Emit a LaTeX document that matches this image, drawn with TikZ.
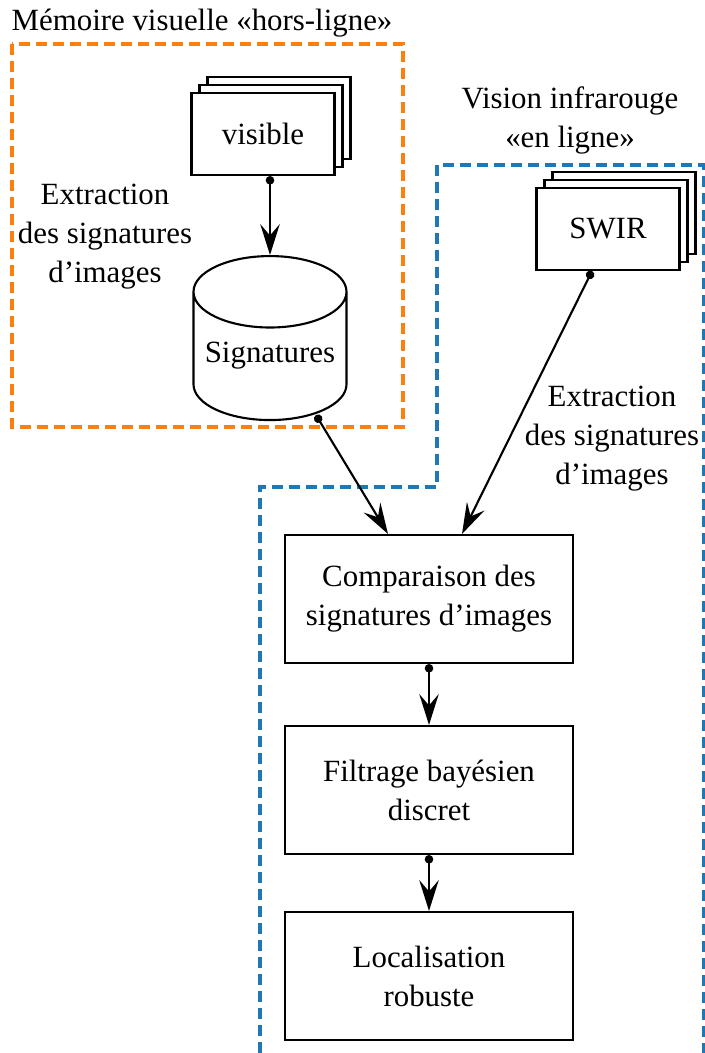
\documentclass[tikz,border=0pt]{standalone}
\usepackage{fontspec}
\setmainfont{Liberation Serif}
\usepackage{tikz}
\usetikzlibrary{arrows.meta, positioning, calc, shapes, shadows}
\newdimen\pxu \pxu=0.3077pt
\definecolor{orangecadre}{RGB}{255,127,14}
\definecolor{bleucadre}{RGB}{31,119,180}

\begin{document}
\begin{tikzpicture}[x=\pxu, y=-\pxu, line width=0.65pt,
    font=\fontsize{9.5}{12}\selectfont,
    boite/.style={draw, fill=white, minimum width=288\pxu, minimum height=128\pxu, align=center},
    pile/.style={draw, fill=white, minimum width=143\pxu, minimum height=82\pxu,
        copy shadow={shadow xshift=16\pxu, shadow yshift=16\pxu, draw, fill=white},
        copy shadow={shadow xshift=8\pxu, shadow yshift=8\pxu, draw, fill=white}},
    base/.style={draw, fill=white, cylinder, shape border rotate=90, aspect=0.47,
        minimum width=153\pxu, minimum height=164\pxu, text depth=8.5pt},
    fleche/.style={{Circle[length=2.6pt]}-{Stealth[length=9.5pt, width=6pt, inset=3.5pt]}},
    cadre/.style={line width=1.1pt, dash pattern=on 11\pxu off 6\pxu}]
    \useasboundingbox (0, 0) rectangle (705, 1053);
    % mémoire hors-ligne
    \draw[cadre, orangecadre] (12, 44) rectangle (403, 427);
    \node (titreHL) at (202, 23) {Mémoire visuelle «hors-ligne»};
    \node[pile] (visible) at (263, 134) {visible};
    \node[base, anchor=north] (sig) at (270, 255) {Signatures};
    \node[align=center] (extrHL) at (105, 237) {Extraction\\des signatures\\d’images};
    % vision en ligne
    \draw[cadre, bleucadre] (260, 1070) -- (260, 487) -- (437, 487) -- (437, 165) -- (704, 165) -- (704, 1070);
    \node[align=center] (titreEL) at (570, 120) {Vision infrarouge\\«en ligne»};
    \node[pile] (swir) at (608, 229) {SWIR};
    \node[align=center] (extrEL) at (612, 439) {Extraction\\des signatures\\d’images};
    \node[boite] (comp) at (429, 599) {Comparaison des\\signatures d’images};
    \node[boite] (filtre) at (429, 790) {Filtrage bayésien\\discret};
    \node[boite] (loc) at (429, 976) {Localisation\\robuste};
    % flèches
    \draw[fleche] ([xshift=7\pxu]visible.south) -- (sig.north);
    \draw[fleche] ([xshift=46\pxu, yshift=6\pxu]sig.south) -- ([xshift=-41\pxu]comp.north);
    \draw[fleche] ([xshift=-16\pxu]swir.south) -- ([xshift=33\pxu]comp.north);
    \draw[fleche] (comp.south) -- (filtre.north);
    \draw[fleche] (filtre.south) -- (loc.north);
\end{tikzpicture}
\end{document}
